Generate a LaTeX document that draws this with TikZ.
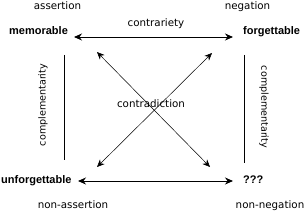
\documentclass[tikz,border=0pt]{standalone}
\usepackage{fontspec}
\setmainfont{DejaVu Sans}
\newfontfamily\boldfam{Liberation Sans}
\usetikzlibrary{arrows.meta}
\begin{document}
\begin{tikzpicture}[x=1pt,y=-1pt,
  txt/.style={inner sep=0pt,font=\fontsize{10.3}{12}\selectfont},
  bword/.style={inner sep=0pt,font=\boldfam\bfseries\fontsize{11}{13}\selectfont},
  comp/.style={inner sep=0pt,font=\fontsize{9.6}{12}\selectfont},
  harrow/.style={{Stealth[length=8pt,width=7pt]}-{Stealth[length=8pt,width=7pt]},line width=0.9pt},
  darrow/.style={{Stealth[length=7.5pt,width=6.5pt]}-{Stealth[length=7.5pt,width=6.5pt]},line width=0.5pt},
  cline/.style={line width=0.8pt}]
\useasboundingbox (0,0) rectangle (305,211);
% labels
\node[txt,anchor=base] (assert) at (57.5,10) {assertion};
\node[txt,anchor=base] (neg) at (247.5,10) {negation};
\node[txt,anchor=base] (contrar) at (156,27) {contrariety};
\node[bword,anchor=base west] (mem) at (9,35) {memorable};
\node[bword,anchor=base west] (forg) at (243,35) {forgettable};
\node[bword,anchor=base west] (unforg) at (1,183) {unforgettable};
\node[bword,anchor=base west] (qqq) at (243,183) {???};
\node[txt,anchor=base] (nonassert) at (73,208) {non-assertion};
\node[txt,anchor=base] (nonneg) at (270,208) {non-negation};
\node[txt,anchor=base] (contrad) at (151,108) {contradiction};
\node[comp,rotate=90] (compL) at (43,105) {complementarity};
\node[comp,rotate=-90] (compR) at (264,107) {complementarity};
% corner points
\coordinate (ht1) at (74,37);
\coordinate (ht2) at (233,37);
\coordinate (hb1) at (78,181);
\coordinate (hb2) at (233,181);
\coordinate (tl) at (97,52);
\coordinate (tr) at (212,53);
\coordinate (bl) at (97,167);
\coordinate (br) at (210,167);
\coordinate (lv1) at (64,55);
\coordinate (lv2) at (64,160);
\coordinate (rv1) at (244,55);
\coordinate (rv2) at (244,163);
% connectors
\draw[harrow] (ht1) -- (ht2);
\draw[harrow] (hb1) -- (hb2);
\draw[darrow] (tl) -- (br);
\draw[darrow] (tr) -- (bl);
\draw[cline] (lv1) -- (lv2);
\draw[cline] (rv1) -- (rv2);
\end{tikzpicture}
\end{document}
